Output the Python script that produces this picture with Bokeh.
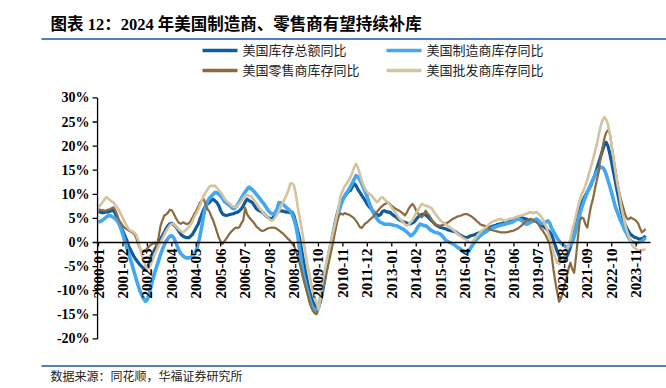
import math
import pandas as pd
from bokeh.plotting import figure
from bokeh.models import Range1d, ColumnDataSource
from bokeh.core.properties import value
from bokeh.embed import file_html
from bokeh.resources import INLINE

# ---------------- data (monthly YoY %, from 2000-01) ----------------
start_month = "2000-01"

total = [
    6.4, 6.3, 6.2, 6.2, 6.4, 6.3, 6.5, 6.6, 6.6, 6.0, 5.0, 4.0,
    3.2, 2.3, 1.4, 0.5, -0.7, -1.5, -2.3, -3.0, -3.6, -4.1, -4.6, -5.0,
    -5.4, -5.6, -5.3, -4.3, -3.2, -2.2, -1.4, -0.7, 0.0, 0.8, 1.4, 2.1,
    2.9, 3.5, 3.9, 4.0, 3.7, 3.3, 2.8, 2.2, 1.6, 1.3, 1.1, 1.0,
    1.0, 1.3, 1.7, 2.4, 3.1, 3.8, 4.9, 5.9, 6.9, 7.6, 8.0, 8.3,
    8.8, 9.0, 8.6, 8.3, 7.6, 6.6, 5.9, 5.7, 5.6, 5.7, 5.8, 5.9,
    6.0, 6.2, 6.3, 6.6, 7.0, 7.6, 8.4, 9.0, 8.7, 8.5, 8.2, 7.6,
    7.0, 6.7, 6.5, 6.3, 6.0, 5.6, 5.2, 5.0, 4.9, 5.2, 5.8, 6.3,
    6.5, 6.6, 6.5, 6.4, 6.3, 6.3, 6.2, 6.3, 5.5, 4.0, 2.4, 0.8,
    -1.5, -3.8, -6.0, -8.0, -9.8, -11.2, -12.3, -13.0, -13.5, -13.4, -12.3, -10.5,
    -8.5, -6.3, -4.0, -1.8, 0.3, 2.4, 4.3, 6.0, 7.4, 8.4, 9.0, 9.6,
    10.1, 10.6, 10.8, 11.5, 12.2, 11.8, 11.0, 10.4, 9.8, 9.2, 8.6, 7.9,
    7.4, 7.0, 6.5, 6.1, 5.8, 5.6, 5.8, 6.4, 6.6, 6.4, 6.3, 6.3,
    5.9, 5.6, 5.4, 5.0, 4.7, 4.5, 4.3, 4.2, 4.0, 3.8, 3.9, 4.1,
    4.3, 4.8, 5.3, 5.6, 5.8, 5.9, 5.7, 5.4, 5.0, 4.6, 4.2, 3.8,
    3.5, 3.3, 3.1, 3.0, 2.9, 2.8, 2.6, 2.5, 2.4, 2.3, 2.2, 1.9,
    1.6, 1.4, 1.2, 1.1, 1.0, 1.2, 1.4, 1.5, 1.6, 1.8, 1.9, 2.1,
    2.2, 2.3, 2.5, 2.8, 3.1, 3.3, 3.4, 3.5, 3.7, 3.8, 3.9, 4.0,
    4.2, 4.3, 4.4, 4.5, 4.6, 4.7, 4.9, 5.0, 5.1, 5.2, 5.0, 4.9,
    4.8, 4.6, 4.5, 4.5, 4.5, 4.4, 4.1, 3.8, 3.5, 3.2, 2.9, 2.5,
    2.2, 1.6, 0.5, -0.7, -1.8, -2.8, -3.5, -3.8, -3.6, -3.0, -2.1, -1.0,
    0.5, 2.0, 3.8, 5.5, 6.8, 8.0, 9.0, 9.8, 10.5, 11.1, 12.0, 13.0,
    14.0, 15.2, 16.5, 17.7, 19.0, 20.2, 20.8, 20.0, 18.4, 16.5, 14.5, 12.5,
    10.5, 8.5, 6.5, 5.0, 3.8, 3.0, 2.3, 1.7, 1.4, 1.1, 1.0, 0.8,
    0.7, 0.8, 1.0, 1.4,
]

manufacturing = [
    4.2, 4.4, 4.6, 4.9, 5.2, 5.5, 5.6, 5.4, 5.2, 4.9, 4.5, 3.8,
    2.8, 1.6, 0.3, -1.0, -2.3, -3.5, -4.8, -6.2, -7.5, -8.8, -10.0, -10.9,
    -11.7, -12.2, -11.8, -10.6, -9.0, -7.5, -6.2, -4.9, -3.7, -2.5, -1.4, -0.5,
    0.3, 0.9, 1.3, 1.4, 1.0, 0.1, -0.9, -1.8, -2.4, -2.8, -3.1, -3.2,
    -3.2, -3.1, -2.8, -2.4, -1.6, -0.3, 1.4, 3.5, 5.8, 7.5, 8.5, 9.2,
    9.6, 10.0, 10.4, 10.3, 10.0, 9.7, 9.1, 8.5, 8.2, 7.9, 7.6, 7.2,
    7.0, 7.3, 7.9, 8.5, 9.2, 9.9, 10.5, 11.0, 11.5, 11.2, 10.9, 10.5,
    10.0, 9.5, 9.0, 8.5, 8.0, 7.4, 6.8, 6.3, 6.0, 5.9, 6.3, 7.0,
    8.3, 8.2, 8.0, 7.6, 7.2, 6.9, 6.5, 5.9, 4.8, 3.4, 1.3, -1.5,
    -4.3, -6.5, -8.3, -9.8, -11.3, -12.6, -13.5, -14.1, -14.5, -13.6, -11.7, -9.6,
    -7.6, -5.5, -3.4, -1.5, 0.3, 2.0, 3.5, 5.0, 6.5, 7.9, 8.9, 9.7,
    10.3, 10.9, 11.6, 12.3, 13.1, 13.9, 13.6, 13.0, 12.2, 11.3, 10.4, 9.4,
    8.2, 7.2, 6.3, 5.6, 5.0, 4.5, 4.2, 4.0, 3.8, 3.8, 3.8, 3.8,
    3.7, 3.6, 3.5, 3.4, 3.2, 3.0, 2.8, 2.5, 2.2, 1.8, 1.4, 1.6,
    2.0, 2.6, 3.3, 3.8, 3.7, 3.5, 3.5, 3.2, 2.8, 2.5, 2.3, 2.1,
    2.0, 1.9, 1.7, 1.3, 0.8, 0.3, 0.2, 0.0, -0.2, -0.4, -0.7, -1.0,
    -1.2, -1.5, -1.8, -2.1, -2.1, -1.7, -1.1, -0.5, 0.1, 0.6, 1.0, 1.4,
    1.7, 2.0, 2.2, 2.5, 2.7, 2.9, 3.1, 3.2, 3.3, 3.5, 3.6, 3.7,
    3.8, 3.9, 4.0, 4.1, 4.2, 4.4, 4.7, 4.9, 4.8, 4.6, 4.3, 3.9,
    3.8, 4.0, 4.2, 4.4, 4.7, 4.9, 4.6, 4.1, 3.9, 4.0, 4.3, 4.5,
    4.0, 3.0, 2.3, 1.6, 0.9, 0.3, -0.1, -0.4, -0.7, -1.0, -0.9, -0.5,
    0.0, 1.2, 2.8, 4.3, 5.8, 7.2, 8.3, 9.4, 10.4, 11.3, 12.2, 13.0,
    13.8, 14.6, 15.2, 15.6, 15.6, 15.2, 14.2, 12.9, 11.6, 10.2, 8.7, 7.3,
    6.3, 5.2, 4.3, 3.4, 2.5, 1.8, 1.0, 0.4, 0.1, 0.0, -0.1, 0.0,
    0.1, 0.3, 0.6, 1.0,
]

retail = [
    6.9, 6.8, 6.7, 6.6, 6.6, 6.8, 6.9, 7.1, 7.3, 6.6, 5.6, 4.6,
    4.0, 3.4, 3.0, 2.8, 2.5, 2.3, 2.1, 1.8, 1.0, -0.2, -1.2, -2.1,
    -1.9, -1.7, -1.2, -0.8, -0.4, -0.2, 0.0, -0.8, 1.2, 3.5, 4.6, 5.6,
    5.8, 6.2, 6.8, 6.7, 6.0, 5.2, 4.5, 4.0, 3.9, 4.2, 4.0, 3.8,
    4.0, 4.4, 5.2, 5.9, 6.6, 7.4, 8.3, 8.8, 9.0, 7.8, 6.9, 6.4,
    5.4, 4.6, 3.4, 2.2, 1.0, 0.2, -0.3, 0.3, 0.8, 1.4, 2.0, 2.4,
    2.8, 3.1, 3.0, 3.2, 4.0, 4.6, 7.2, 5.9, 5.3, 4.8, 4.4, 3.9,
    3.3, 3.0, 2.6, 2.4, 2.5, 2.7, 2.9, 3.0, 3.1, 3.1, 3.0, 2.8,
    2.5, 2.2, 1.9, 1.5, 1.1, 0.7, 0.3, -0.2, -0.7, -1.7, -3.0, -4.3,
    -6.0, -7.6, -9.0, -10.5, -12.0, -13.3, -14.2, -14.7, -14.9, -13.5, -11.8, -10.0,
    -8.2, -6.5, -5.0, -3.2, -1.5, 0.5, 2.5, 4.5, 5.7, 6.0, 5.8, 6.1,
    5.9, 5.8, 5.6, 5.3, 5.0, 4.5, 3.9, 3.2, 3.0, 3.5, 4.0, 4.2,
    4.6, 5.0, 5.3, 5.8, 6.3, 6.8, 7.2, 7.6, 7.9, 8.1, 8.3, 8.0,
    7.6, 7.3, 7.0, 6.8, 6.6, 6.3, 6.0, 5.6, 6.2, 7.0, 7.6, 8.0,
    7.5, 6.6, 6.0, 5.5, 5.2, 5.8, 6.6, 6.0, 5.6, 4.9, 4.2, 3.8,
    3.6, 3.5, 3.5, 3.6, 3.8, 4.0, 4.2, 4.5, 4.8, 5.0, 5.2, 5.4,
    5.5, 5.6, 5.8, 5.9, 5.9, 5.7, 5.5, 5.2, 4.9, 4.5, 4.2, 3.8,
    3.6, 3.5, 3.4, 3.0, 2.8, 2.6, 2.5, 2.4, 2.3, 2.2, 2.1, 2.1,
    2.1, 2.1, 2.2, 2.3, 2.4, 2.5, 2.7, 2.9, 3.2, 3.5, 3.9, 4.3,
    4.6, 4.8, 4.9, 4.7, 4.4, 4.2, 3.8, 3.1, 2.6, 2.0, 1.4, 0.5,
    -0.4, -2.5, -5.6, -8.2, -10.4, -12.3, -11.6, -10.3, -8.7, -7.2, -5.5, -4.2,
    -5.5, -6.3, -3.0, 1.0, 4.5, 5.2, 5.0, 3.8, 3.1, 5.5, 7.6, 9.0,
    11.0, 12.8, 14.5, 17.4, 19.5, 21.5, 22.8, 23.3, 22.6, 20.0, 17.4, 15.0,
    12.5, 10.4, 8.8, 7.4, 6.0, 5.0, 4.8, 5.2, 5.0, 4.8, 4.5, 4.0,
    3.0, 2.1, 2.4, 2.8,
]

wholesale = [
    7.3, 7.8, 8.3, 8.8, 9.4, 9.2, 8.8, 8.5, 8.3, 7.7, 7.2, 6.6,
    5.8, 5.0, 4.2, 3.5, 2.8, 2.5, 2.3, 2.1, 1.6, 0.6, -1.0, -2.5,
    -3.8, -4.9, -5.5, -5.3, -4.4, -3.3, -2.3, -1.5, -0.7, 0.0, 0.8, 1.6,
    2.4, 3.0, 3.6, 3.9, 3.8, 3.4, 3.0, 2.6, 2.3, 2.1, 2.4, 2.8,
    3.1, 3.7, 4.4, 5.3, 6.0, 6.8, 7.8, 8.8, 9.7, 10.4, 11.0, 11.6,
    11.8, 11.7, 11.8, 11.3, 10.8, 10.4, 9.8, 9.1, 8.6, 8.3, 8.0, 7.6,
    7.4, 7.3, 7.7, 8.1, 8.6, 9.1, 9.7, 9.8, 9.7, 9.6, 9.2, 8.6,
    8.1, 7.5, 6.9, 6.5, 6.0, 5.6, 5.2, 4.8, 4.5, 4.7, 5.3, 5.8,
    6.6, 7.4, 8.2, 9.0, 9.8, 10.8, 12.2, 12.3, 11.8, 9.9, 7.3, 5.3,
    3.0, 0.7, -2.0, -4.5, -6.3, -8.3, -10.0, -11.3, -12.5, -13.9, -11.5, -8.5,
    -6.5, -4.5, -2.8, -1.0, 0.8, 2.5, 4.2, 6.0, 8.0, 10.0, 10.8, 11.7,
    12.2, 12.8, 13.5, 14.5, 15.6, 16.3, 15.5, 14.3, 12.8, 11.8, 11.0, 10.4,
    10.1, 9.8, 9.4, 8.9, 8.4, 8.6, 9.2, 9.4, 9.0, 8.6, 8.3, 7.8,
    7.2, 6.7, 6.2, 5.6, 5.0, 4.6, 4.2, 3.8, 3.5, 3.7, 4.2, 4.6,
    5.4, 6.2, 6.8, 7.4, 8.0, 7.8, 7.6, 7.6, 7.3, 7.2, 6.6, 6.0,
    5.5, 5.0, 4.5, 4.2, 4.0, 3.7, 3.4, 3.1, 2.8, 2.5, 2.1, 1.8,
    1.5, 1.2, 0.9, 0.7, 0.4, 0.1, 0.0, 0.2, 0.7, 1.2, 1.7, 2.1,
    2.5, 2.8, 3.1, 3.5, 3.9, 4.2, 4.4, 4.5, 4.7, 4.8, 4.9, 4.7,
    4.5, 4.6, 4.8, 4.9, 5.0, 5.1, 5.3, 5.4, 5.5, 5.6, 5.7, 5.9,
    6.0, 6.2, 6.3, 6.1, 6.2, 6.3, 6.0, 5.6, 5.0, 4.2, 3.4, 2.2,
    1.0, -0.5, -2.1, -3.2, -4.2, -4.5, -4.0, -3.5, -2.8, -1.8, -0.5, 0.7,
    2.5, 4.0, 5.6, 7.3, 8.8, 10.0, 10.8, 11.8, 13.0, 14.5, 15.8, 17.2,
    18.8, 20.3, 22.2, 24.0, 25.3, 26.0, 25.6, 24.5, 22.5, 20.0, 17.2, 14.6,
    12.2, 10.2, 7.6, 5.6, 3.9, 2.5, 1.4, 0.3, -0.7, -1.1, -1.4, -1.6,
    -1.7, -1.6, -1.5, -1.4,
]

series_names = ["美国库存总额同比", "美国制造商库存同比", "美国零售商库存同比", "美国批发商库存同比"]
y_ticks = [-20, -15, -10, -5, 0, 5, 10, 15, 20, 25, 30]
tick_every = 13

title_text = "图表 12：2024 年美国制造商、零售商有望持续补库"
source_text = "数据来源：同花顺，华福证券研究所"

# ---------------- derived ----------------
N = len(total)
months = pd.date_range(start_month, periods=N, freq="MS").strftime("%Y-%m").tolist()
idx = list(range(N))
tick_idx = list(range(0, N, tick_every))
tick_labels = [months[i] for i in tick_idx]
y_tick_labels = [f"{t}%" for t in y_ticks]

colors = ["#0E5C9E", "#44A8F0", "#8C6A3E", "#D4C3A0"]
widths = [3.2, 3.6, 2.2, 2.6]
CJK = "'Liberation Serif', 'Noto Sans CJK SC'"
RULE = "#4F7FC0"
W, H = 666, 388

# page layout: month m -> X0 + KX*m px ; value v -> Y0 - KY*v px
X0, KX = 98.0, 1.88
Y0, KY = 242.0, 4.82
x_lo = -0.5
x_hi = (650 - X0) / KX

p = figure(width=W, height=H,
           x_range=Range1d((0 - X0) / KX, (W - X0) / KX),
           y_range=Range1d((Y0 - H) / KY, Y0 / KY),
           x_axis_type=None, y_axis_type=None,
           output_backend="svg", toolbar_location=None,
           min_border=0, min_border_left=0, min_border_right=0,
           min_border_top=0, min_border_bottom=0)
p.outline_line_color = None
p.background_fill_color = "white"
p.border_fill_color = "white"
p.xgrid.visible = False
p.ygrid.visible = False
# pixel ranges for the page furniture (title, legend, source)
p.extra_x_ranges = {"px": Range1d(0, W)}
p.extra_y_ranges = {"py": Range1d(H, 0)}

# ---- series ----
src = ColumnDataSource(dict(x=idx, total=total, manufacturing=manufacturing,
                            retail=retail, wholesale=wholesale))
for key, c, w in zip(["total", "manufacturing", "retail", "wholesale"], colors, widths):
    p.line("x", key, source=src, line_color=c, line_width=w, line_join="round")

# ---- axes drawn at data positions ----
p.segment(x0=[x_lo], y0=[y_ticks[0]], x1=[x_lo], y1=[y_ticks[-1]],
          line_color="black", line_width=1.3)
p.segment(x0=[x_lo], y0=[0], x1=[x_hi], y1=[0], line_color="black", line_width=1.3)
p.ray(x=[x_lo] * len(y_ticks), y=y_ticks, length=5, length_units="screen",
      angle=math.pi, line_color="black", line_width=1.3)
p.ray(x=tick_idx, y=[0] * len(tick_idx), length=4, length_units="screen",
      angle=-math.pi / 2, line_color="black", line_width=1.3)

p.text(x=[x_lo] * len(y_ticks), y=y_ticks, text=y_tick_labels, x_offset=-8,
       text_align="right", text_baseline="middle",
       text_font=value("Liberation Serif"), text_font_style="bold",
       text_font_size="14px", text_color="black")

p.text(x=tick_idx, y=[0] * len(tick_idx), text=tick_labels, angle=math.pi / 2,
       text_align="right", text_baseline="middle", y_offset=6,
       text_font=value("Liberation Serif"), text_font_style="bold",
       text_font_size="15px", text_color="black")

# ---- title, rules, legend, source (page pixels) ----
P = dict(x_range_name="px", y_range_name="py")
p.text(x=[50], y=[24], text=[title_text], text_font=value(CJK),
       text_font_style="bold", text_font_size="16.5px",
       text_baseline="middle", text_align="left", text_color="black", **P)
p.quad(left=[41, 41], right=[W, W], top=[37.5, 364.5], bottom=[39.5, 366.5],
       fill_color=RULE, line_color=None, **P)

leg_x = [202, 386, 202, 386]
leg_y = [50, 50, 70, 70]
p.quad(left=leg_x, right=[v + 35 for v in leg_x],
       top=[v - 1.8 for v in leg_y], bottom=[v + 1.8 for v in leg_y],
       fill_color=colors, line_color=None, **P)
p.text(x=[v + 40 for v in leg_x], y=leg_y, text=series_names,
       text_font=value(CJK), text_font_size="13px",
       text_baseline="middle", text_align="left", text_color="#222222", **P)

p.text(x=[50], y=[376], text=[source_text], text_font=value(CJK),
       text_font_size="12px", text_baseline="middle", text_align="left",
       text_color="#222222", **P)

open("out.html", "w").write(file_html(p, INLINE))
